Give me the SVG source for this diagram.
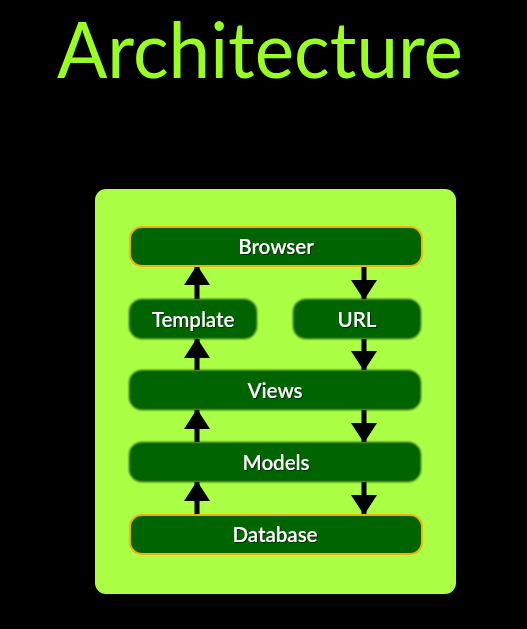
<svg xmlns="http://www.w3.org/2000/svg" width="527" height="629" viewBox="0 0 527 629">
<defs>
<filter id="soft" x="-10%" y="-30%" width="120%" height="160%">
<feGaussianBlur in="SourceGraphic" stdDeviation="1.3"/>
</filter>
<filter id="ts" x="-10%" y="-30%" width="120%" height="160%">
<feDropShadow dx="1" dy="1" stdDeviation="0.6" flood-color="#002000" flood-opacity="0.9"/>
</filter>
<marker id="head" viewBox="0 0 20 26" refX="19" refY="13" markerWidth="20" markerHeight="26" markerUnits="userSpaceOnUse" orient="auto">
<path d="M0,0 L20,13 L0,26 Z" fill="#000"/>
</marker>
</defs>
<style>
.box{fill:#006400;}
.edge{fill:#0a5a00;filter:url(#soft);}
.bord{fill:#006400;stroke:#f2b000;stroke-width:2;}
.lbl{font-family:Lato,"Open Sans","Liberation Sans",sans-serif;font-size:20.5px;font-weight:600;fill:#ffffff;text-anchor:middle;filter:url(#ts);}
.arr{stroke:#000;stroke-width:5;fill:none;marker-end:url(#head);}
</style>
<rect x="0" y="0" width="527" height="629" fill="#000"/>
<text x="260" y="78" font-family="Lato,'Open Sans','Liberation Sans',sans-serif" font-size="78" fill="#99ff22" text-anchor="middle" textLength="406" lengthAdjust="spacingAndGlyphs">Architecture</text>
<rect x="95" y="189" width="361" height="405" rx="11" fill="#aaff44"/>
<g id="connectors">
<line class="arr" x1="197" y1="299" x2="197" y2="266"/>
<line class="arr" x1="197" y1="370" x2="197" y2="339"/>
<line class="arr" x1="197" y1="442" x2="197" y2="410"/>
<line class="arr" x1="197" y1="514" x2="197" y2="482"/>
<line class="arr" x1="364" y1="266" x2="364" y2="299"/>
<line class="arr" x1="364" y1="339" x2="364" y2="370"/>
<line class="arr" x1="364" y1="410" x2="364" y2="442"/>
<line class="arr" x1="364" y1="482" x2="364" y2="514"/>
</g>
<g id="browser">
<rect class="bord" x="130" y="227" width="292" height="39" rx="12"/>
<text class="lbl" x="276" y="254">Browser</text>
</g>
<g id="template">
<rect class="edge" x="129" y="299" width="128" height="40" rx="13"/>
<rect class="box" x="131" y="301" width="124" height="36" rx="11"/>
<text class="lbl" x="193" y="327">Template</text>
</g>
<g id="url">
<rect class="edge" x="293" y="299" width="128" height="40" rx="13"/>
<rect class="box" x="295" y="301" width="124" height="36" rx="11"/>
<text class="lbl" x="357" y="327">URL</text>
</g>
<g id="views">
<rect class="edge" x="129" y="370" width="292" height="40" rx="13"/>
<rect class="box" x="131" y="372" width="288" height="36" rx="11"/>
<text class="lbl" x="275" y="398">Views</text>
</g>
<g id="models">
<rect class="edge" x="129" y="442" width="292" height="40" rx="13"/>
<rect class="box" x="131" y="444" width="288" height="36" rx="11"/>
<text class="lbl" x="276" y="470">Models</text>
</g>
<g id="database">
<rect class="bord" x="130" y="515" width="292" height="39" rx="12"/>
<text class="lbl" x="275" y="542">Database</text>
</g>
</svg>
